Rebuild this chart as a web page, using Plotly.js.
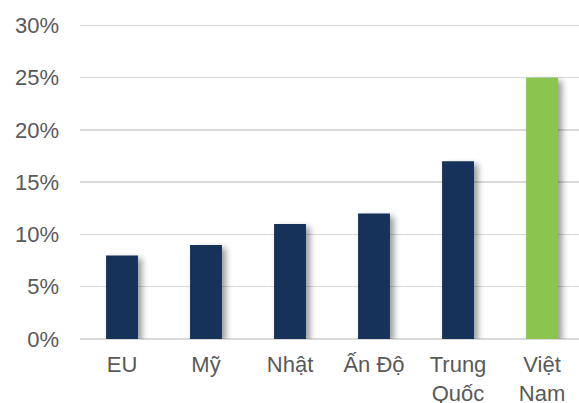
<!DOCTYPE html>
<html>
<head>
<meta charset="utf-8">
<script src="https://cdn.plot.ly/plotly-3.0.1.min.js"></script>
<style>
html,body{margin:0;padding:0;background:#fff;}
#chart{width:579px;height:403px;}
.barlayer .point path{filter:drop-shadow(4px 3px 3px rgba(0,0,0,0.4));}
</style>
</head>
<body>
<div id="chart"></div>
<script>
const categories = ["EU", "Mỹ", "Nhật", "Ấn Độ", "Trung<br>Quốc", "Việt<br>Nam"];
const values = [8, 9, 11, 12, 17, 25];
const barColors = ["#17325a", "#17325a", "#17325a", "#17325a", "#17325a", "#8bc54e"];
const yTickVals = [0, 5, 10, 15, 20, 25, 30];
const yTickText = ["0%", "5%", "10%", "15%", "20%", "25%", "30%"];

const trace = {
  type: "bar",
  x: categories,
  y: values,
  marker: {color: barColors, line: {width: 0}},
  hoverinfo: "skip"
};

const layout = {
  width: 579, height: 403,
  margin: {l: 80, r: 0, t: 15, b: 64},
  paper_bgcolor: "#ffffff",
  plot_bgcolor: "#ffffff",
  showlegend: false,
  bargap: 0.62,
  font: {family: "Liberation Sans, Arial, sans-serif", size: 22, color: "#595959"},
  xaxis: {
    range: [-0.5, 5.44],
    showgrid: false, showline: false, zeroline: false, ticks: "",
    tickfont: {size: 22, color: "#595959"},
    ticklabelstandoff: 10
  },
  yaxis: {
    range: [0, 31],
    tickvals: yTickVals, ticktext: yTickText,
    showgrid: true, gridcolor: "#d9d9d9", gridwidth: 1.5,
    zeroline: true, zerolinecolor: "#d9d9d9", zerolinewidth: 1.5,
    showline: false, ticks: "",
    tickfont: {size: 22, color: "#595959"},
    ticklabelstandoff: 20
  }
};

Plotly.newPlot("chart", [trace], layout, {displayModeBar: false, staticPlot: true});
</script>
</body>
</html>
